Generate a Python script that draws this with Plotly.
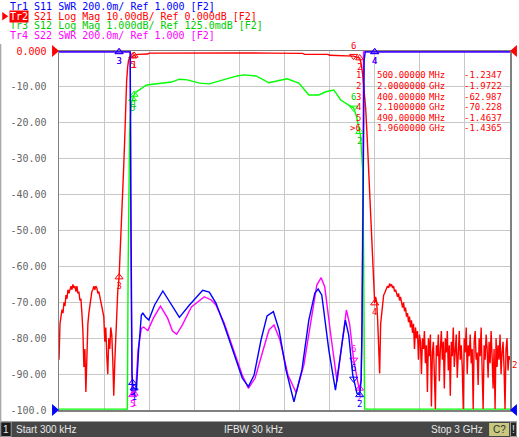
import numpy as np
import plotly.graph_objects as go

# ---------------- data ----------------
F_START_GHZ = 0.0003
F_STOP_GHZ = 3.0

# Tr2 S21 Log Mag (dB)
s21_low_vals = [-86, -76, -74, -72, -73, -70, -71, -68, -69, -66.5, -67.5, -66, -65.5, -66.5, -65,
                -66, -65.5, -67, -65.5, -67.5, -67, -69.5, -69, -73, -78, -88, -83, -95, -80, -76,
                -73, -70.5, -69, -67, -66.5, -65.5, -66.5, -65.5, -66, -67.5, -67, -68.5, -70, -71,
                -72.5, -74, -81, -77, -85, -90, -80, -83, -77, -79, -86, -96, -87, -80, -71, -67]
s21_low_f_end = 0.391
s21_mid_f = [0.40, 0.41, 0.42, 0.43, 0.437, 0.443, 0.45, 0.457, 0.463, 0.47, 0.48, 0.49, 0.50, 0.52,
             0.55, 0.59, 0.60, 0.80, 1.00, 1.245, 1.25, 1.255, 1.40, 1.62, 1.635, 1.79, 1.80, 1.90,
             1.96, 2.00, 2.01, 2.02, 2.03, 2.04, 2.05, 2.06, 2.07, 2.08, 2.09, 2.10]
s21_mid_v = [-62.987, -54, -44, -33, -25, -15, -8.5, -4.5, -2.6, -2.0, -1.7, -1.4637, -1.2347, -0.95,
             -0.85, -0.83, -0.58, -0.55, -0.55, -0.55, -0.35, -0.55, -0.6, -0.65, -0.93, -0.95, -1.2,
             -1.25, -1.4365, -1.9722, -3.5, -6.5, -10.5, -16, -24, -33, -43, -53, -62, -70.228]
s21_high_f_start = 2.1066
s21_high_vals = [-68.5, -70, -75, -83, -89.8, -76, -73, -71, -68, -67.5, -66.5, -66, -65.5, -66, -64.8,
                 -65.5, -65, -66, -65.5, -67, -66.5, -67.5, -68.5, -67.5, -69.5, -68.5, -70.5, -71.5,
                 -70, -72.5, -71.5, -74, -73, -75.5, -74, -77, -75, -78.5, -76, -83, -77, -80, -78,
                 -86, -79, -81, -90, -80, -83, -78, -87, -82, -95, -80, -85, -79, -99, -84, -81, -88,
                 -100, -82, -85, -79, -92, -83, -78, -86, -81, -94, -80, -84, -78, -89, -82, -96, -81,
                 -85, -77, -88, -83, -79, -91, -84, -78, -86, -82, -88, -100, -80, -84, -77, -90, -82,
                 -85, -79, -87, -83, -100, -81, -78, -86, -84, -93, -80, -85, -77, -89, -100, -82, -86,
                 -79, -83, -91, -81, -87, -78, -85, -94, -83, -100, -80, -88, -82, -86, -79, -90, -84,
                 -81, -88, -100, -83, -80, -89, -85, -86]

# Tr1 S11 SWR
s11_f = [0.0003, 0.2, 0.47, 0.474, 0.478, 0.482, 0.486, 0.492, 0.515, 0.530, 0.548, 0.558, 0.576, 0.598,
         0.636, 0.691, 0.735, 0.801, 0.868, 0.956, 1.0, 1.044, 1.099, 1.166, 1.219, 1.26, 1.298, 1.344,
         1.384, 1.426, 1.464, 1.51, 1.563, 1.616, 1.662, 1.702, 1.724, 1.748, 1.795, 1.839, 1.868,
         1.905, 1.927, 1.954, 1.982, 2.0, 2.01, 2.016, 2.023, 2.03, 2.037, 2.5, 3.0]
s11_v = [40, 25, 6, 3.2, 2.2, 1.5, 1.2, 1.128, 1.111, 1.334, 1.529, 1.539, 1.518, 1.501, 1.585, 1.663,
         1.602, 1.516, 1.585, 1.667, 1.657, 1.596, 1.474, 1.306, 1.178, 1.130, 1.195, 1.390, 1.524,
         1.548, 1.446, 1.223, 1.046, 1.223, 1.501, 1.652, 1.674, 1.641, 1.334, 1.111, 1.279, 1.501,
         1.418, 1.195, 1.093, 1.084, 1.167, 1.5, 2.17, 2.95, 6, 25, 40]

# Tr3 S12 Log Mag (dB)
s12_f = [0.0003, 0.2, 0.40, 0.45, 0.455, 0.46, 0.465, 0.47, 0.475, 0.483, 0.503, 0.583, 0.748, 0.801,
         0.854, 0.934, 1.0, 1.086, 1.185, 1.232, 1.311, 1.397, 1.517, 1.596, 1.662, 1.728, 1.775, 1.828,
         1.874, 1.927, 1.96, 1.98, 2.007, 2.02, 2.026, 2.033, 2.1, 2.5, 3.0]
s12_v = [-60, -62, -64, -15, -12, -6, -3.5, -2.2, -1.7, -1.3, -1.05, -0.82, -0.74, -0.66, -0.68, -0.77,
         -0.79, -0.68, -0.57, -0.54, -0.57, -0.76, -0.65, -0.77, -1.10, -1.10, -1.01, -0.96, -1.24,
         -1.38, -1.46, -1.71, -2.27, -3.19, -5.4, -12, -70, -80, -85]

# Tr4 S22 SWR
s22_f = [0.0003, 0.2, 0.47, 0.474, 0.478, 0.482, 0.486, 0.490, 0.510, 0.526, 0.548, 0.563, 0.591, 0.629,
         0.675, 0.722, 0.755, 0.783, 0.821, 0.881, 0.967, 1.013, 1.044, 1.099, 1.166, 1.219, 1.26,
         1.305, 1.358, 1.397, 1.43, 1.47, 1.523, 1.578, 1.629, 1.675, 1.715, 1.744, 1.768, 1.808, 1.85,
         1.881, 1.912, 1.934, 1.96, 1.998, 2.01, 2.015, 2.02, 2.023, 2.026, 2.5, 3.0]
s22_v = [40, 25, 6, 3.0, 2.0, 1.3, 1.1, 1.084, 1.10, 1.334, 1.455, 1.462, 1.442, 1.513, 1.579, 1.513,
         1.44, 1.422, 1.474, 1.574, 1.631, 1.613, 1.585, 1.485, 1.323, 1.195, 1.121, 1.178, 1.334,
         1.446, 1.474, 1.390, 1.195, 1.096, 1.251, 1.501, 1.696, 1.737, 1.685, 1.418, 1.158, 1.362,
         1.557, 1.474, 1.279, 1.111, 1.167, 1.39, 1.89, 2.45, 6, 25, 40]

# markers
marker_labels = ["1", "2", "3", "4", "5", "6"]
marker_f = [0.5, 2.0, 0.4, 2.1, 0.49, 1.96]
marker_s21 = [-1.2347, -1.9722, -62.987, -70.228, -1.4637, -1.4365]
active_marker = "6"

# axis ticks
y_tickvals = [0, -10, -20, -30, -40, -50, -60, -70, -80, -90, -100]
y_ticktext = ["0.000", "-10.00", "-20.00", "-30.00", "-40.00", "-50.00", "-60.00", "-70.00",
              "-80.00", "-90.00", "-100.0"]

header = [
    ("Tr1 S11 SWR 200.0m/ Ref 1.000 [F2]", "blue"),
    ("Tr2 S21 Log Mag 10.00dB/ Ref 0.000dB [F2]", "red"),
    ("Tr3 S12 Log Mag 1.000dB/ Ref 125.0mdB [F2]", "green"),
    ("Tr4 S22 SWR 200.0m/ Ref 1.000 [F2]", "magenta"),
]
status_start = "Start 300 kHz"
status_ifbw = "IFBW 30 kHz"
status_stop = "Stop 3 GHz"

# ---------------- styling / geometry ----------------
W, H = 519, 437
L, R, T, B = 59, 512, 51, 410
COL = {"blue": "#0000ff", "red": "#ff0000", "green": "#00ff00", "magenta": "#ff00ff"}
TXT = {"blue": "#0000ff", "red": "#ff0000", "green": "#00cc00", "magenta": "#ff00ff"}
MONO = "DejaVu Sans Mono"


def pxx(x):
    return (x - L) / (R - L)


def pxy(y):
    return (B - y) / (B - T)


def tri_path(pts):
    s = "M " + " L ".join(f"{pxx(a):.5f},{pxy(b):.5f}" for a, b in pts) + " Z"
    return s


def clamp(v, lo, hi):
    pad = (hi - lo) * 0.0025
    return np.clip(np.asarray(v, dtype=float), lo + pad, hi - pad)


s21_f = np.concatenate([np.linspace(F_START_GHZ, s21_low_f_end, len(s21_low_vals)),
                        np.array(s21_mid_f),
                        np.linspace(s21_high_f_start, F_STOP_GHZ, len(s21_high_vals))])
s21_v = np.concatenate([s21_low_vals, s21_mid_v, s21_high_vals])

traces = [
    # name, f, v, axis, range, color
    ("S22", np.array(s22_f), s22_v, "y2", (1.0, 3.0), "magenta"),
    ("S12", np.array(s12_f), s12_v, "y3", (-9.875, 0.125), "green"),
    ("S21", s21_f, s21_v, "y4", (-100.0, 0.0), "red"),
    ("S11", np.array(s11_f), s11_v, "y5", (1.0, 3.0), "blue"),
]

fig = go.Figure()
stim_x, stim_c = [], []
for name, f, v, ax, (lo, hi), c in traces:
    vc = clamp(v, lo, hi)
    fig.add_trace(go.Scatter(x=f, y=vc, yaxis=ax, mode="lines",
                             line=dict(color=COL[c], width=1.4), hoverinfo="skip",
                             showlegend=False))
    if name == "S21":
        mv = np.array(marker_s21)
    else:
        mv = np.interp(marker_f, f, vc)
    pad = (hi - lo) * 0.0025
    xs, ys, txt, sym, pos = [], [], [], [], []
    for lab, mf, val in zip(marker_labels, marker_f, mv):
        if val <= lo + pad * 1.01:
            stim_x.append(mf)
            stim_c.append(COL[c])
            continue
        xs.append(mf)
        ys.append(val)
        txt.append(lab)
        if lab == active_marker:
            sym.append("triangle-down-open")
            pos.append("top center")
        else:
            sym.append("triangle-up-open")
            pos.append("bottom center")
    fig.add_trace(go.Scatter(x=xs, y=ys, yaxis=ax, mode="markers+text", text=txt,
                             textposition=pos, cliponaxis=False,
                             textfont=dict(family=MONO, size=9, color=TXT[c]),
                             marker=dict(symbol=sym, size=7, color=COL[c],
                                         line=dict(width=1, color=COL[c])),
                             hoverinfo="skip", showlegend=False))

# stimulus markers under the grid (active trace)
fig.add_trace(go.Scatter(
    x=marker_f, y=[-101.75] * len(marker_f), mode="markers", cliponaxis=False,
    marker=dict(symbol=["triangle-up" if l == active_marker else "triangle-up-open" for l in marker_labels],
                size=9, color=COL["red"], line=dict(width=1, color=COL["red"])),
    hoverinfo="skip", showlegend=False))
if stim_x:
    fig.add_trace(go.Scatter(
        x=stim_x, y=[-102.9] * len(stim_x), mode="markers", cliponaxis=False,
        marker=dict(symbol="triangle-up-open", size=5, color=stim_c, line=dict(width=1, color=stim_c)),
        hoverinfo="skip", showlegend=False))

ticktext = [f"<span style='color:#ff0000'>{t}</span>" if v == 0 else t
            for v, t in zip(y_tickvals, y_ticktext)]

grid = "#c8c8c8"
fig.update_layout(
    width=W, height=H, autosize=False,
    margin=dict(l=L, r=W - R, t=T, b=H - B, pad=0),
    paper_bgcolor="white", plot_bgcolor="white",
    showlegend=False, hovermode=False,
    xaxis=dict(range=[F_START_GHZ, F_STOP_GHZ], tick0=F_START_GHZ,
               dtick=(F_STOP_GHZ - F_START_GHZ) / 10, showticklabels=False, ticks="",
               showgrid=True, gridcolor=grid, gridwidth=1, zeroline=False,
               showline=True, linecolor="#808080", linewidth=1.5, mirror=True,
               layer="below traces"),
    yaxis=dict(range=[-100, 0], tickmode="array", tickvals=y_tickvals, ticktext=ticktext,
               tickfont=dict(family=MONO, size=10, color="#666666"), ticks="",
               ticklabelstandoff=9,
               showgrid=True, gridcolor=grid, gridwidth=1, zeroline=False,
               showline=True, linecolor="#808080", linewidth=1.5, mirror=True,
               layer="below traces"),
    yaxis2=dict(range=[1, 3], overlaying="y", visible=False),
    yaxis3=dict(range=[-9.875, 0.125], overlaying="y", visible=False),
    yaxis4=dict(range=[-100, 0], overlaying="y", visible=False),
    yaxis5=dict(range=[1, 3], overlaying="y", visible=False),
)

shapes = []
annotations = []

# header lines
row_y = [6.5, 16.3, 26.0, 35.8]
for (text, c), yy in zip(header, row_y):
    annotations.append(dict(xref="paper", yref="paper", x=pxx(9), y=pxy(yy), xanchor="left",
                            yanchor="middle", showarrow=False, borderpad=0,
                            text=text.replace(" ", "\u00a0"),
                            font=dict(family=MONO, size=10, color=TXT[c])))
# active trace box
annotations.append(dict(xref="paper", yref="paper", x=pxx(9), y=pxy(row_y[1]), xanchor="left",
                        yanchor="middle", showarrow=False, borderpad=0, bgcolor=COL["red"],
                        text="Tr2", font=dict(family=MONO, size=10, color="white")))
shapes.append(dict(type="path", xref="paper", yref="paper",
                   path=tri_path([(2, 12), (8, 16.3), (2, 20.6)]),
                   fillcolor=COL["red"], line=dict(width=0)))

# marker table
row_t = [75.3, 85.8, 96.6, 107.4, 118.1, 128.4]
for lab, mf, val, yy in zip(marker_labels, marker_f, marker_s21, row_t):
    if mf < 1:
        fs, unit = f"{mf * 1000:.5f}", "MHz"
    else:
        fs, unit = f"{mf:.7f}", "GHz"
    num = (">" + lab) if lab == active_marker else lab
    for txt, xpos, anc in [(num, 363, "right"), (fs, 377, "left"), (unit, 430, "left"),
                           (f"{val:.5g}", 465, "left")]:
        annotations.append(dict(xref="paper", yref="paper", x=pxx(xpos), y=pxy(yy), xanchor=anc,
                                yanchor="middle", showarrow=False, borderpad=0, text=txt,
                                font=dict(family=MONO, size=9, color=TXT["red"])))
annotations.append(dict(xref="paper", yref="paper", x=pxx(513), y=pxy(365), xanchor="left",
                        yanchor="middle", showarrow=False, borderpad=0, text="2",
                        font=dict(family=MONO, size=9, color=TXT["red"])))

# reference position triangles
shapes.append(dict(type="path", xref="paper", yref="paper",
                   path=tri_path([(52, 45), (59, 51), (52, 57)]), fillcolor=COL["red"], line=dict(width=0)))
shapes.append(dict(type="path", xref="paper", yref="paper",
                   path=tri_path([(519, 45), (512, 51), (519, 57)]), fillcolor=COL["red"], line=dict(width=0)))
shapes.append(dict(type="path", xref="paper", yref="paper",
                   path=tri_path([(52, 404), (59, 410), (52, 416)]), fillcolor=COL["blue"], line=dict(width=0)))
shapes.append(dict(type="path", xref="paper", yref="paper",
                   path=tri_path([(519, 404), (512, 410), (519, 416)]), fillcolor=COL["blue"], line=dict(width=0)))

# left window edge
shapes.append(dict(type="line", xref="paper", yref="paper", x0=pxx(0.5), x1=pxx(0.5),
                   y0=pxy(44), y1=pxy(421), line=dict(color="#8c8c8c", width=1)))

# status bar
def rect(x0, y0, x1, y1, fill, line=None):
    return dict(type="rect", xref="paper", yref="paper", x0=pxx(x0), x1=pxx(x1), y0=pxy(y1), y1=pxy(y0),
                fillcolor=fill, line=dict(width=1 if line else 0, color=line or fill), layer="above")

shapes.append(rect(0, 421.5, 519, 437, "#464646"))
shapes.append(rect(0.5, 422, 11, 436.5, "#1c1c1c", "#9a9a9a"))
shapes.append(rect(491, 423, 511, 436, "#c8c87e"))
shapes.append(rect(512.5, 422, 518.5, 436.5, "#262626", "#9a9a9a"))

SANS = "Liberation Sans"
for txt, xpos, anc, col, fam in [("1", 6, "center", "#e8e8e8", SANS),
                                  (status_start, 15, "left", "#e8e8e8", SANS),
                                  (status_ifbw, 254.5, "center", "#e8e8e8", SANS),
                                  (status_stop, 486, "right", "#e8e8e8", SANS),
                                  ("C?", 501, "center", "#303030", SANS),
                                  ("!", 515.5, "center", "#e8e8e8", SANS)]:
    annotations.append(dict(xref="paper", yref="paper", x=pxx(xpos), y=pxy(429.5), xanchor=anc,
                            yanchor="middle", showarrow=False, borderpad=0, text=txt,
                            font=dict(family=fam, size=10, color=col)))

fig.update_layout(shapes=shapes, annotations=annotations)
fig.write_html("out.html", config={"displayModeBar": False, "staticPlot": True},
               post_script="document.body.style.margin='0';document.body.style.padding='0';"
                           "document.body.style.overflow='hidden';")
